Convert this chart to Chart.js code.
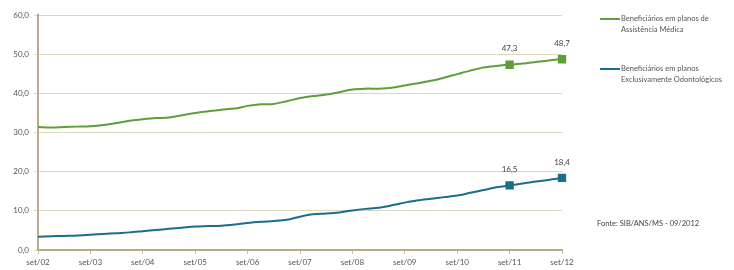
<!DOCTYPE html>
<html>
<head>
<meta charset="utf-8">
<script src="https://cdn.jsdelivr.net/npm/chart.js@4.4.1/dist/chart.umd.min.js"></script>
<style>
  body { margin: 0; background: #fff; font-family: Lato, "Open Sans", sans-serif; }
  #wrap { position: relative; width: 734px; height: 270px; }
  .legend-item { position: absolute; left: 600px; font-size: 7.5px; color: #555; line-height: 11px; }
  .legend-item .swatch { position: absolute; left: 0; top: 5px; width: 20px; height: 1.5px; }
  .legend-item .txt { margin-left: 21px; white-space: nowrap; }
  #source { position: absolute; left: 597px; top: 219px; font-size: 7.5px; color: #444; white-space: nowrap; }
</style>
</head>
<body>
<div id="wrap">
  <canvas id="chart" width="734" height="270"></canvas>
  <div class="legend-item" style="top:13px">
    <div class="swatch" style="background:#5f9e3a"></div>
    <div class="txt">Beneficiários em planos de<br>Assistência Médica</div>
  </div>
  <div class="legend-item" style="top:63px">
    <div class="swatch" style="background:#1c6d8c"></div>
    <div class="txt">Beneficiários em planos<br>Exclusivamente Odontológicos</div>
  </div>
  <div id="source">Fonte: SIB/ANS/MS - 09/2012</div>
</div>
<script>
// quarterly, set/02 .. set/12 (only the set/ ones get a tick label)
const periods = [
    'set/02', 'dez/02', 'mar/03', 'jun/03', 'set/03', 'dez/03', 'mar/04', 'jun/04',
    'set/04', 'dez/04', 'mar/05', 'jun/05', 'set/05', 'dez/05', 'mar/06', 'jun/06',
    'set/06', 'dez/06', 'mar/07', 'jun/07', 'set/07', 'dez/07', 'mar/08', 'jun/08',
    'set/08', 'dez/08', 'mar/09', 'jun/09', 'set/09', 'dez/09', 'mar/10', 'jun/10',
    'set/10', 'dez/10', 'mar/11', 'jun/11', 'set/11', 'dez/11', 'mar/12', 'jun/12',
    'set/12'
];

const medica = [
    31.4, 31.3, 31.4, 31.5, 31.6, 31.9, 32.4, 33.0, 33.4, 33.7,
    33.8, 34.4, 35.0, 35.4, 35.8, 36.1, 36.8, 37.2, 37.3, 38.0,
    38.8, 39.3, 39.7, 40.3, 41.0, 41.2, 41.2, 41.4, 42.0, 42.6,
    43.2, 44.0, 44.9, 45.8, 46.6, 47.0, 47.3, 47.6, 48.0, 48.4,
    48.7
];
const odonto = [
    3.4, 3.5, 3.6, 3.7, 3.9, 4.1, 4.3, 4.5, 4.8, 5.1,
    5.4, 5.7, 6.0, 6.1, 6.2, 6.5, 6.9, 7.2, 7.4, 7.7,
    8.5, 9.1, 9.3, 9.6, 10.1, 10.5, 10.8, 11.4, 12.1, 12.7,
    13.1, 13.5, 13.9, 14.6, 15.3, 16.0, 16.5, 17.0, 17.5, 17.9,
    18.4
];
const yTicks = [0, 10, 20, 30, 40, 50, 60];
const labelled = [36, 40]; // set/11 and set/12

const fmt = v => v.toFixed(1).replace('.', ',');
const markerRadius = periods.map((p, i) => labelled.includes(i) ? 4.5 : 0);

const valueLabels = {
    id: 'valueLabels',
    afterDatasetsDraw(chart) {
        const ctx = chart.ctx;
        ctx.save();
        ctx.font = '8px Lato, sans-serif';
        ctx.fillStyle = '#444';
        ctx.textAlign = 'center';
        ctx.textBaseline = 'bottom';
        chart.data.datasets.forEach((ds, d) => {
            const meta = chart.getDatasetMeta(d);
            labelled.forEach(i => {
                const pt = meta.data[i];
                ctx.fillText(fmt(ds.data[i]), pt.x, pt.y - 12);
            });
        });
        ctx.restore();
    }
};

new Chart(document.getElementById('chart'), {
    type: 'line',
    data: {
        labels: periods,
        datasets: [{
            label: 'Beneficiários em planos de Assistência Médica',
            data: medica,
            borderColor: '#5f9e3a',
            backgroundColor: '#5f9e3a',
            borderWidth: 2,
            pointStyle: 'rect',
            pointRadius: markerRadius,
            pointHoverRadius: markerRadius,
            tension: 0.3
        }, {
            label: 'Beneficiários em planos Exclusivamente Odontológicos',
            data: odonto,
            borderColor: '#1c6d8c',
            backgroundColor: '#1c6d8c',
            borderWidth: 2,
            pointStyle: 'rect',
            pointRadius: markerRadius,
            pointHoverRadius: markerRadius,
            tension: 0.3
        }]
    },
    options: {
        responsive: false,
        animation: false,
        layout: { padding: { top: 15, right: 172, left: 0, bottom: 0 } },
        plugins: { legend: { display: false }, tooltip: { enabled: false } },
        scales: {
            x: {
                offset: false,
                grid: { drawOnChartArea: false, color: '#c9c1a3', tickLength: 4 },
                border: { color: '#b8ad88', width: 2 },
                ticks: {
                    autoSkip: false,
                    maxRotation: 0,
                    color: '#555',
                    font: { size: 8, family: 'Lato, sans-serif' },
                    padding: 4,
                    callback: function (v, i) { return i % 4 === 0 ? periods[i] : null; }
                },
                afterFit: s => { s.height = 20; }
            },
            y: {
                min: 0,
                max: 60,
                afterBuildTicks: s => { s.ticks = yTicks.map(v => ({ value: v })); },
                grid: { color: '#ddd6c0', lineWidth: 1, tickLength: 4 },
                border: { color: '#b8ad88', width: 2 },
                ticks: {
                    color: '#555',
                    font: { size: 8, family: 'Lato, sans-serif' },
                    padding: 5,
                    callback: v => fmt(v)
                },
                afterFit: s => { s.width = 38; }
            }
        }
    },
    plugins: [valueLabels]
});
</script>
</body>
</html>
